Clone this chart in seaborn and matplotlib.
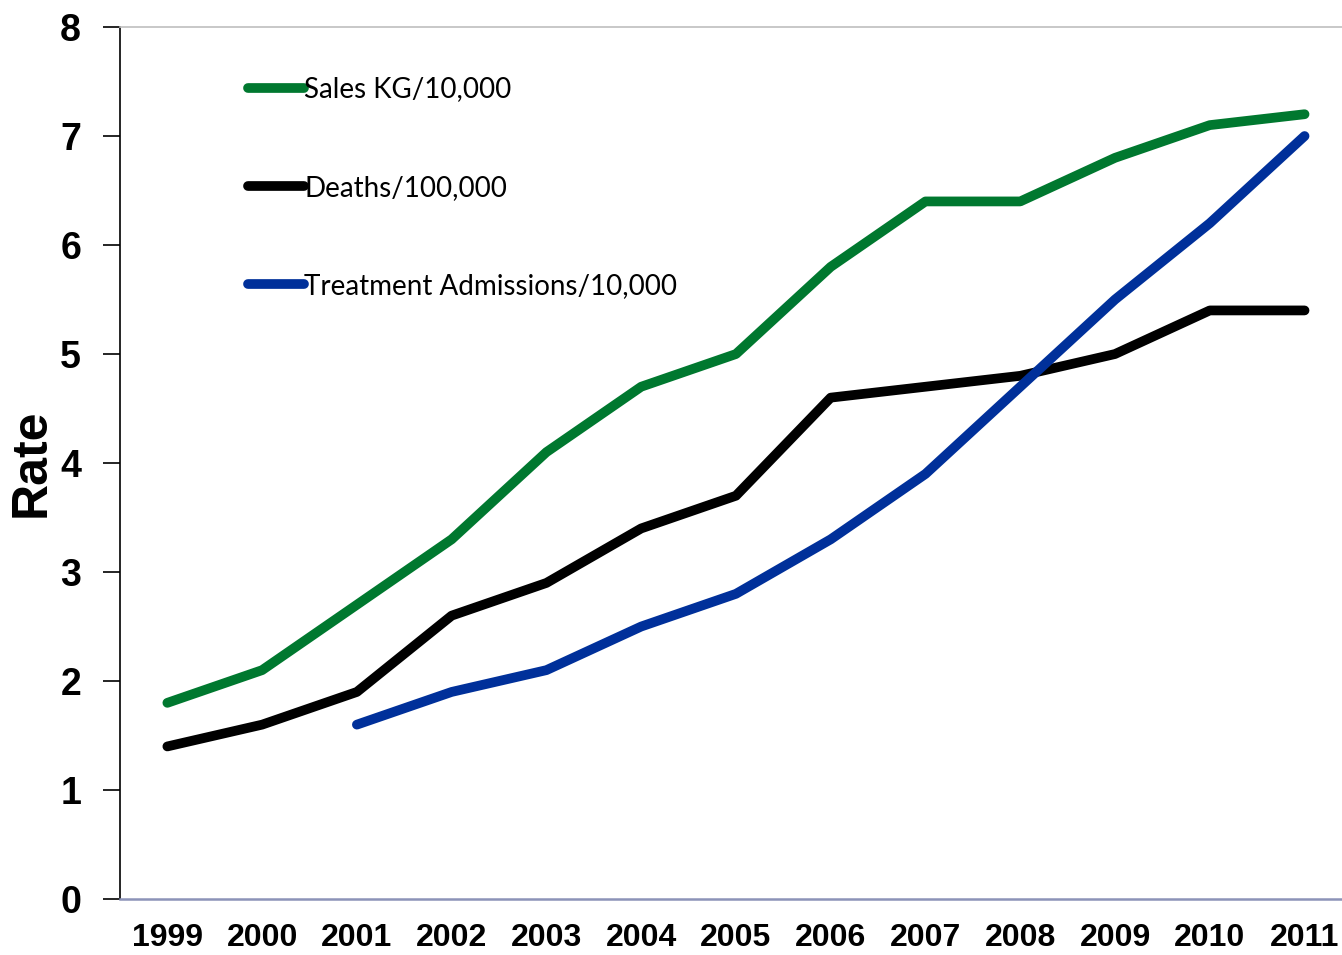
import pandas as pd
import matplotlib.pyplot as plt
import seaborn as sns
import numpy as np

years = [1999, 2000, 2001, 2002, 2003, 2004, 2005, 2006, 2007, 2008, 2009, 2010, 2011]
sales = [1.8, 2.1, 2.7, 3.3, 4.1, 4.7, 5.0, 5.8, 6.4, 6.4, 6.8, 7.1, 7.2]
deaths = [1.4, 1.6, 1.9, 2.6, 2.9, 3.4, 3.7, 4.6, 4.7, 4.8, 5.0, 5.4, 5.4]
treatment = [np.nan, np.nan, 1.6, 1.9, 2.1, 2.5, 2.8, 3.3, 3.9, 4.7, 5.5, 6.2, 7.0]

series_names = ["Sales KG/10,000", "Deaths/100,000", "Treatment Admissions/10,000"]
series_colors = ["#00782f", "#000000", "#00309a"]

df = pd.DataFrame({"year": years, series_names[0]: sales,
                   series_names[1]: deaths, series_names[2]: treatment})
long = df.melt(id_vars="year", var_name="series", value_name="rate").dropna()

sns.set_style("white")
plt.rcParams['font.family'] = ['Liberation Sans', 'DejaVu Sans']
plt.rcParams['text.color'] = 'black'
plt.rcParams['xtick.color'] = 'black'
plt.rcParams['ytick.color'] = 'black'
plt.rcParams['axes.labelcolor'] = 'black'

fig = plt.figure(figsize=(13.42, 9.55), dpi=100)
ax = fig.add_axes([0.0894, 0.0586, 0.918, 0.9131])

sns.lineplot(data=long, x="year", y="rate", hue="series", hue_order=series_names,
             palette=series_colors, linewidth=7, ax=ax, legend=True)
for line in ax.lines:
    line.set_solid_capstyle("round")
    line.set_solid_joinstyle("round")

ax.set_xlim(1998.5, 2011.5)
ax.set_ylim(0, 8)
ax.set_yticks(range(0, 9))
ax.set_xticks(years)
ax.set_xticklabels([str(y) for y in years])
ax.set_xticks(np.arange(1998.5, 2011, 1.0), minor=True)
ax.tick_params(axis="x", which="major", length=0, pad=17, labelsize=23)
ax.tick_params(axis="x", which="minor", length=10, width=1.5, color="#8c93b8", direction="out")
ax.tick_params(axis="y", length=12, width=1.2, color="black", direction="out", pad=16, labelsize=27)
ax.tick_params(axis="both", bottom=True, left=True)
for lab in ax.get_xticklabels() + ax.get_yticklabels():
    lab.set_fontweight("bold")

ax.spines["left"].set_color("black")
ax.spines["left"].set_linewidth(1.2)
ax.spines["bottom"].set_color("#8c93b8")
ax.spines["bottom"].set_linewidth(1.8)
ax.spines["top"].set_color("#bfbfbf")
ax.spines["top"].set_linewidth(1.2)
ax.spines["right"].set_visible(False)

ax.set_xlabel("")
ax.set_ylabel("Rate", fontsize=36, fontweight="bold")
ax.yaxis.set_label_coords(-0.053, 0.5)

leg = ax.legend(loc="upper left", bbox_to_anchor=(0.084, 0.972), frameon=False,
                handlelength=2.0, handletextpad=0.0, labelspacing=2.6,
                prop={"family": "Lato", "size": 20})
for h in leg.get_lines():
    h.set_linewidth(7)
    h.set_solid_capstyle("round")

fig.savefig("out.png", dpi=100)
